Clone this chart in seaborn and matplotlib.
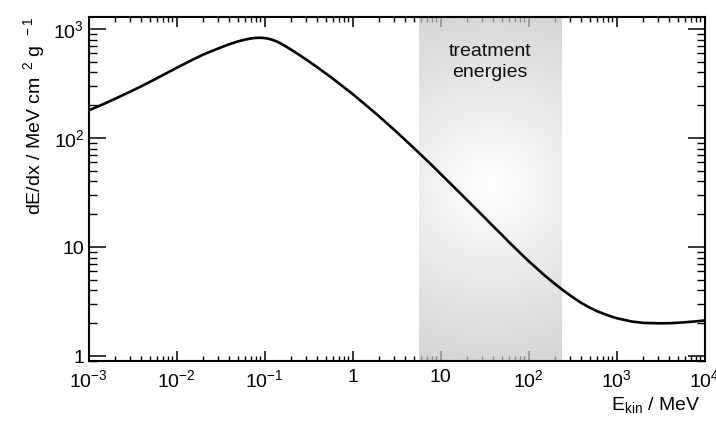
import numpy as np
import matplotlib
matplotlib.use("Agg")
import matplotlib.pyplot as plt
import matplotlib.ticker as mticker
import matplotlib.transforms as mtransforms
import seaborn as sns

# Proton stopping power in water (total), MeV cm^2 / g
energy_mev = [0.001, 0.0015, 0.002, 0.003, 0.004, 0.005, 0.006, 0.008,
              0.01, 0.015, 0.02, 0.03, 0.04, 0.05, 0.06, 0.07, 0.08, 0.09,
              0.1, 0.111, 0.125, 0.14, 0.15, 0.175, 0.2, 0.25, 0.3, 0.4,
              0.5, 0.6, 0.8, 1.0, 1.5, 2.0, 3.0, 4.0, 5.0, 6.0, 8.0, 10.0,
              15.0, 20.0, 30.0, 40.0, 50.0, 60.0, 80.0, 100.0, 150.0, 200.0,
              250.0, 300.0, 400.0, 500.0, 600.0, 800.0, 1000.0, 1500.0,
              2000.0, 3000.0, 4000.0, 5000.0, 6000.0, 8000.0, 10000.0]
stopping_power = [179, 206, 229, 267, 299, 328, 354, 400,
                  440, 520, 582, 665, 727, 770, 800, 820, 830, 832,
                  827, 815, 793, 764, 744, 692, 648, 577, 523, 445,
                  390, 350, 292, 254, 193, 158.5, 118.3, 95.5, 80.7, 70.2, 56.2, 47.0,
                  34.0, 27.0, 19.5, 15.4, 12.9, 11.1, 8.85, 7.45, 5.55, 4.58,
                  3.98, 3.58, 3.06, 2.77, 2.58, 2.36, 2.225, 2.07,
                  2.015, 1.995, 2.0, 2.02, 2.04, 2.08, 2.12]

# Energy window used for therapy
treatment_range = (5.7, 236.0)
treatment_label = "treatment\nenergies"

x_ticks = [1e-3, 1e-2, 1e-1, 1, 10, 1e2, 1e3, 1e4]
x_tick_labels = [r"$10^{-3}$", r"$10^{-2}$", r"$10^{-1}$", "1", "10",
                 r"$10^{2}$", r"$10^{3}$", r"$10^{4}$"]
y_ticks = [1, 10, 1e2, 1e3]
y_tick_labels = ["1", "10", r"$10^{2}$", r"$10^{3}$"]

sns.set_theme(style="ticks")
plt.rcParams["font.family"] = ["Liberation Sans", "DejaVu Sans"]
plt.rcParams["mathtext.fontset"] = "custom"
plt.rcParams["mathtext.rm"] = "Liberation Sans"
plt.rcParams["mathtext.it"] = "Liberation Sans:italic"
plt.rcParams["mathtext.bf"] = "Liberation Sans:bold"
for key in ["text.color", "axes.labelcolor", "xtick.color", "ytick.color",
            "xtick.labelcolor", "ytick.labelcolor"]:
    plt.rcParams[key] = "black"

fig = plt.figure(figsize=(7.16, 4.30), dpi=100)
ax = fig.add_axes([88.5 / 716, 1 - 361 / 430, 616 / 716, 344 / 430])

ax.set_xscale("log")
ax.set_yscale("log")
ax.set_xlim(1e-3, 1e4)
ax.set_ylim(0.90, 1290)

# radial grey gradient for the treatment band, drawn in axes coordinates
fig.canvas.draw()
to_axes = ax.transData + ax.transAxes.inverted()
xa0 = to_axes.transform((treatment_range[0], 1))[0]
xa1 = to_axes.transform((treatment_range[1], 1))[0]
w_px = int(round((xa1 - xa0) * 616))
h_px = 344
yy, xx = np.mgrid[0:h_px, 0:w_px]
cx, cy = w_px / 2.0, 168.0
r = np.hypot(xx - cx, yy - cy)
shade = 1.0 - 0.23 * np.clip(r / 185.0, 0, 1)
rgb = np.dstack([shade, shade, shade])
ax.imshow(rgb, extent=(xa0, xa1, 0, 1), transform=ax.transAxes,
          aspect="auto", origin="upper", zorder=1, alpha=0.72,
          interpolation="bilinear")
ax.set_xlim(1e-3, 1e4)
ax.set_ylim(0.90, 1290)

sns.lineplot(x=energy_mev, y=stopping_power, ax=ax, color="black",
             linewidth=1.9, zorder=3, sort=False)

x_mid = np.sqrt(treatment_range[0] * treatment_range[1])
ax.text(x_mid, 0.925, treatment_label,
        transform=mtransforms.blended_transform_factory(ax.transData, ax.transAxes),
        ha="center", va="top", fontsize=14, color="#111111", linespacing=1.3, zorder=4)

ax.set_axisbelow(True)
ax.xaxis.set_major_locator(mticker.FixedLocator(x_ticks))
ax.xaxis.set_major_formatter(mticker.FixedFormatter(x_tick_labels))
ax.yaxis.set_major_locator(mticker.FixedLocator(y_ticks))
ax.yaxis.set_major_formatter(mticker.FixedFormatter(y_tick_labels))
ax.xaxis.set_minor_locator(mticker.LogLocator(base=10, subs=np.arange(2, 10), numticks=50))
ax.yaxis.set_minor_locator(mticker.LogLocator(base=10, subs=np.arange(2, 10), numticks=50))
ax.xaxis.set_minor_formatter(mticker.NullFormatter())
ax.yaxis.set_minor_formatter(mticker.NullFormatter())

ax.tick_params(axis="x", which="major", direction="in", length=7.5, width=1.1,
               top=True, bottom=True, labelsize=14, pad=6, color="black")
ax.tick_params(axis="x", which="minor", direction="in", length=3.8, width=1.0,
               top=True, bottom=True, color="black")
ax.tick_params(axis="y", which="major", direction="in", length=12, width=1.1,
               left=True, right=True, labelsize=14, pad=3, color="black")
ax.tick_params(axis="y", which="minor", direction="in", length=6, width=1.0,
               left=True, right=True, color="black")
for s in ax.spines.values():
    s.set_linewidth(1.5)
    s.set_color("black")
    s.set_zorder(5)

ax.set_ylabel(r"dE/dx / MeV cm $^{\,2}$ g $^{\,-1}$", fontsize=14, loc="top")
ax.yaxis.set_label_coords(-0.068, 1.0)
ax.set_xlabel(r"E$_{\rm kin}$ / MeV", fontsize=14, loc="right")
ax.xaxis.set_label_coords(0.993, -0.10)

fig.savefig("out.png", dpi=100)
